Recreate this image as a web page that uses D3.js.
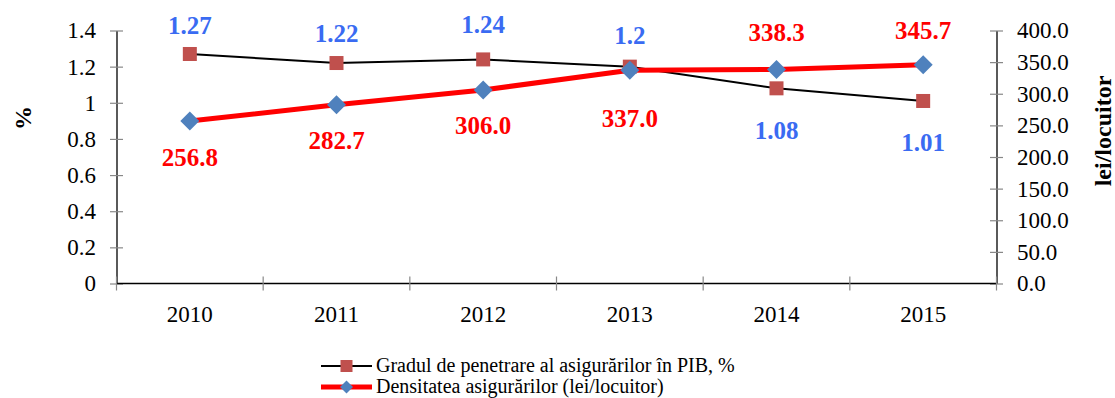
<!DOCTYPE html>
<html>
<head>
<meta charset="utf-8">
<script src="https://cdn.jsdelivr.net/npm/d3@7/dist/d3.min.js"></script>
<style>
  html, body { margin: 0; padding: 0; background: #fff; }
  svg { display: block; }
  svg text { font-family: 'Liberation Serif', 'Times New Roman', Tinos, 'DejaVu Serif', serif; }
</style>
</head>
<body>
<svg id="chart" width="1115" height="398"></svg>
<script>
// Years on the category axis
const years = ["2010", "2011", "2012", "2013", "2014", "2015"];
// Insurance penetration in GDP, %
const penetration = [1.27, 1.22, 1.24, 1.2, 1.08, 1.01];
// Insurance density, lei per inhabitant
const density = [256.8, 282.7, 306.0, 337.0, 338.3, 345.7];
// Axis tick values
const leftTicks = [0, 0.2, 0.4, 0.6, 0.8, 1, 1.2, 1.4];
const rightTicks = [0, 50, 100, 150, 200, 250, 300, 350, 400];
// Legend entries
const seriesNames = [
  "Gradul de penetrare al asigurărilor în PIB, %",
  "Densitatea asigurărilor (lei/locuitor)"
];

const FONT = "'Liberation Serif', 'Times New Roman', Tinos, 'DejaVu Serif', serif";

// Vertical offsets of the value labels from their markers
const penLabelDy = [-29, -30, -35, -31, 42, 41];
const denLabelDy = [36, 36, 35, 48, -37, -35];

const svg = d3.select("#chart");
const plot = { left: 116.5, right: 996.5, top: 30.5, bottom: 283.5 };

const x = d3.scaleBand().domain(years).range([plot.left, plot.right]);
const yL = d3.scaleLinear().domain([0, 1.4]).range([plot.bottom, plot.top]);
const yR = d3.scaleLinear().domain([0, 400]).range([plot.bottom, plot.top]);
const cx = d => x(d) + x.bandwidth() / 2;

// Axes
const axisStyle = g => {
  g.attr("font-family", FONT);
  g.selectAll("path.domain").attr("stroke", "#000").attr("stroke-width", 1.3);
  g.selectAll(".tick line").attr("stroke", "#888").attr("stroke-width", 1.2);
  g.selectAll(".tick text").attr("fill", "#000")
    .style("font-family", FONT)
    .style("font-size", "23px");
};

const leftAxis = svg.append("g")
  .attr("transform", `translate(${plot.left},0)`)
  .call(d3.axisLeft(yL).tickValues(leftTicks).tickFormat(d3.format("")).tickSizeOuter(0).tickSizeInner(6.5).tickPadding(14))
  .call(axisStyle);
leftAxis.selectAll(".tick line").attr("x1", 6.5).attr("x2", -6.5);

const rightAxis = svg.append("g")
  .attr("transform", `translate(${plot.right},0)`)
  .call(d3.axisRight(yR).tickValues(rightTicks).tickFormat(d3.format(".1f")).tickSizeOuter(0).tickSizeInner(6.5).tickPadding(14))
  .call(axisStyle);
rightAxis.selectAll(".tick line").attr("x1", -6.5).attr("x2", 6.5);

// Category axis: ticks sit on the band boundaries
const bottom = svg.append("g").attr("transform", `translate(0,${plot.bottom})`);
bottom.append("line")
  .attr("x1", plot.left).attr("x2", plot.right)
  .attr("stroke", "#000").attr("stroke-width", 1.3);
const bounds = years.map(d => x(d)).concat([plot.right]);
bottom.selectAll("line.tk").data(bounds).join("line")
  .attr("class", "tk")
  .attr("x1", d => d).attr("x2", d => d)
  .attr("y1", -7).attr("y2", 7)
  .attr("stroke", "#888").attr("stroke-width", 1.2);
bottom.selectAll("text").data(years).join("text")
  .attr("x", d => cx(d)).attr("y", 38)
  .attr("text-anchor", "middle")
  .style("font-family", FONT)
  .style("font-size", "23px")
  .text(d => d);

// Axis titles
svg.append("text")
  .attr("transform", "translate(31,118) rotate(-90)")
  .attr("text-anchor", "middle")
  .style("font-family", FONT)
  .style("font-size", "24px").style("font-weight", "bold")
  .text("%");
svg.append("text")
  .attr("transform", "translate(1111,131) rotate(-90)")
  .attr("text-anchor", "middle")
  .style("font-family", FONT)
  .style("font-size", "24px").style("font-weight", "bold")
  .text("lei/locuitor");

// Series lines
const penLine = d3.line().x((d, i) => cx(years[i])).y(d => yL(d));
const denLine = d3.line().x((d, i) => cx(years[i])).y(d => yR(d));

svg.append("path").datum(penetration)
  .attr("d", penLine).attr("fill", "none")
  .attr("stroke", "#000").attr("stroke-width", 2);

svg.append("path").datum(density)
  .attr("d", denLine).attr("fill", "none")
  .attr("stroke", "#FF0000").attr("stroke-width", 5).attr("stroke-linejoin", "round");

// Markers
const sq = 14;
svg.selectAll("rect.pen").data(penetration).join("rect")
  .attr("class", "pen")
  .attr("x", (d, i) => cx(years[i]) - sq / 2)
  .attr("y", d => yL(d) - sq / 2)
  .attr("width", sq).attr("height", sq)
  .attr("fill", "#C0504D");

const dm = 9.5;
svg.selectAll("path.den").data(density).join("path")
  .attr("class", "den")
  .attr("d", (d, i) => {
    const px = cx(years[i]), py = yR(d);
    return `M${px},${py - dm}L${px + dm},${py}L${px},${py + dm}L${px - dm},${py}Z`;
  })
  .attr("fill", "#4F81BD");

// Value labels
svg.selectAll("text.penLbl").data(penetration).join("text")
  .attr("class", "penLbl")
  .attr("x", (d, i) => cx(years[i]))
  .attr("y", (d, i) => yL(d) + penLabelDy[i])
  .attr("dy", "0.35em")
  .attr("text-anchor", "middle")
  .attr("fill", "#3A6BF2")
  .style("font-family", FONT)
  .style("font-size", "25px").style("font-weight", "bold")
  .text(d => String(d));

svg.selectAll("text.denLbl").data(density).join("text")
  .attr("class", "denLbl")
  .attr("x", (d, i) => cx(years[i]))
  .attr("y", (d, i) => yR(d) + denLabelDy[i])
  .attr("dy", "0.35em")
  .attr("text-anchor", "middle")
  .attr("fill", "#FF0000")
  .style("font-family", FONT)
  .style("font-size", "25px").style("font-weight", "bold")
  .text(d => d.toFixed(1));

// Legend
const legend = svg.append("g");
const rows = [
  { name: seriesNames[0], y: 366, stroke: "#000", sw: 2, marker: "square" },
  { name: seriesNames[1], y: 387, stroke: "#FF0000", sw: 5, marker: "diamond" }
];
rows.forEach(r => {
  legend.append("line")
    .attr("x1", 321).attr("x2", 372).attr("y1", r.y).attr("y2", r.y)
    .attr("stroke", r.stroke).attr("stroke-width", r.sw);
  if (r.marker === "square") {
    legend.append("rect")
      .attr("x", 346.5 - 6).attr("y", r.y - 6).attr("width", 12).attr("height", 12)
      .attr("fill", "#C0504D");
  } else {
    const s = 6.5;
    legend.append("path")
      .attr("d", `M346.5,${r.y - s}L${346.5 + s},${r.y}L346.5,${r.y + s}L${346.5 - s},${r.y}Z`)
      .attr("fill", "#4F81BD");
  }
  legend.append("text")
    .attr("x", 376).attr("y", r.y).attr("dy", "0.3em")
    .style("font-family", FONT)
    .style("font-size", "20px")
    .text(r.name);
});
</script>
</body>
</html>
